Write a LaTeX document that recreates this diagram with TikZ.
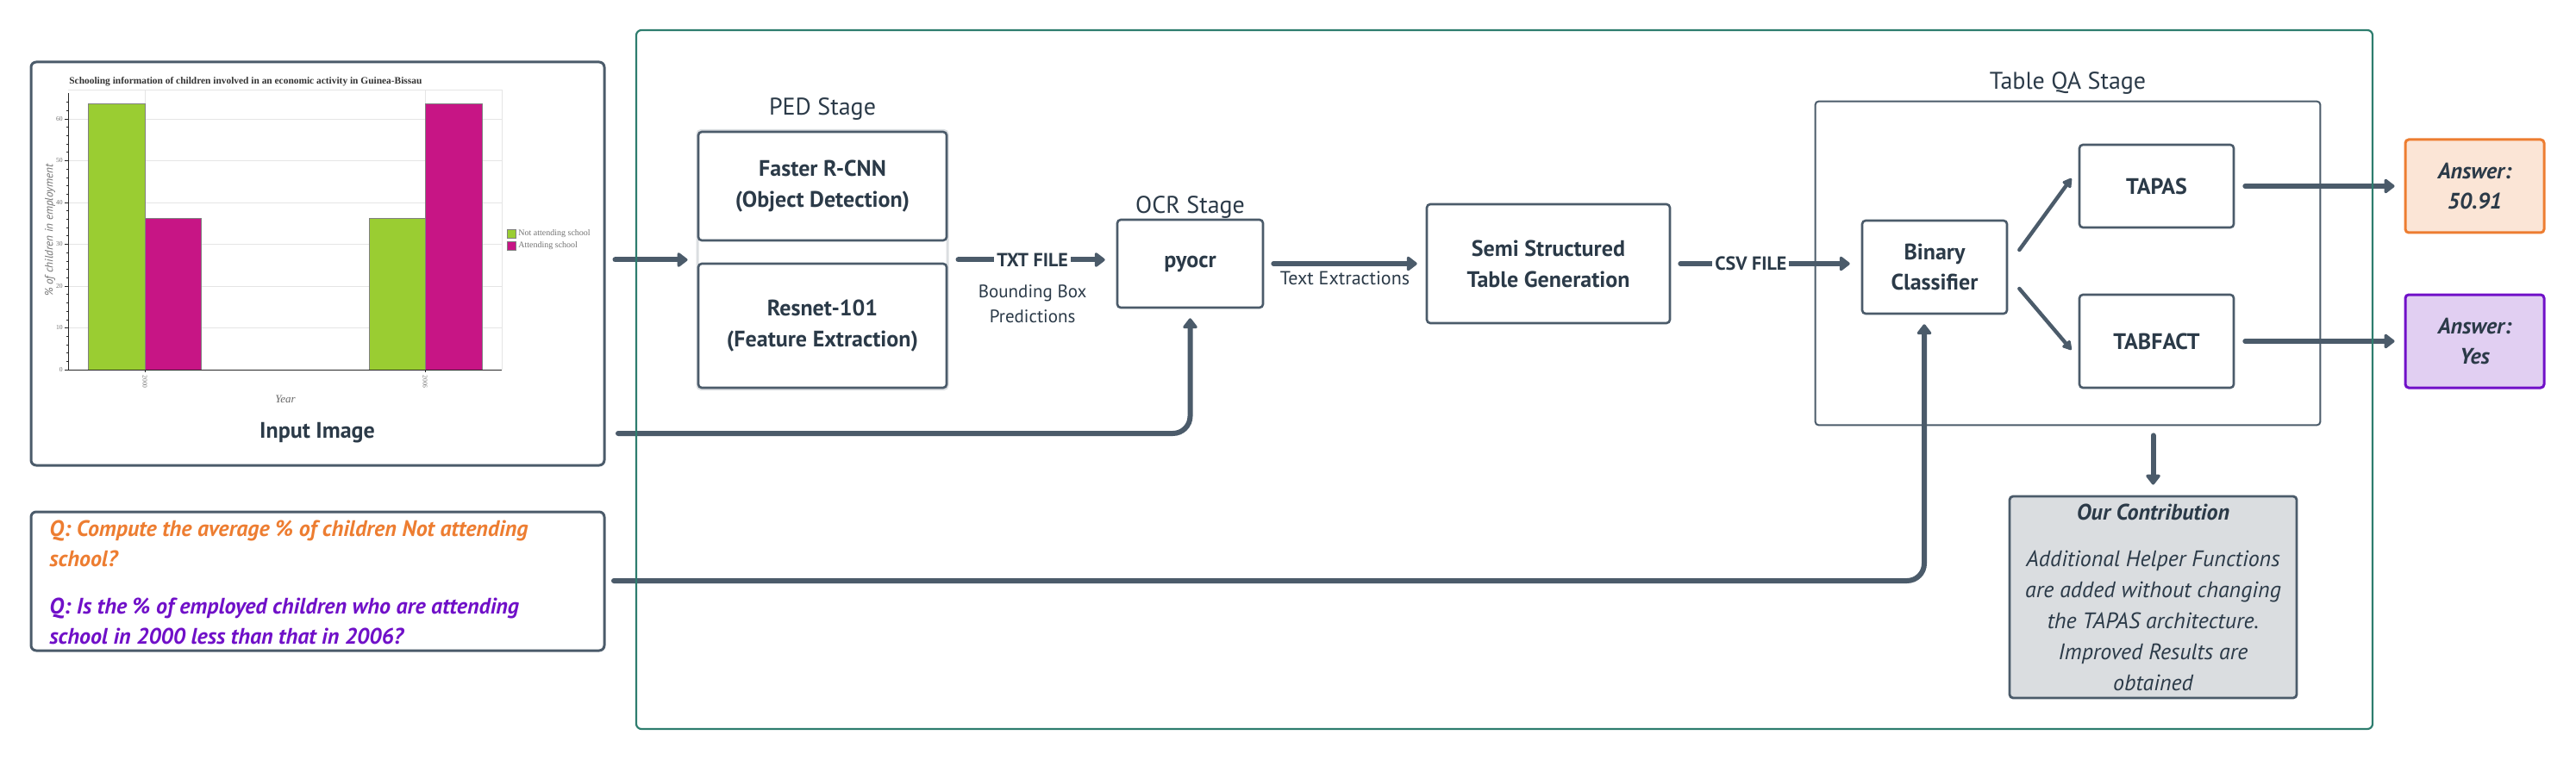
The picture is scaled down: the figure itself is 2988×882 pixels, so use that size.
\documentclass[tikz,border=0pt]{standalone}
\usepackage{fontspec}
\setmainfont{PT Sans}
\newfontfamily\chartfont{Liberation Serif}
\usepackage{tikz}
\usetikzlibrary{arrows.meta}
\usetikzlibrary{positioning}
\usetikzlibrary{calc}
\definecolor{slate}{HTML}{4B5B6A}
\definecolor{ink}{HTML}{2B3A48}
\definecolor{frame}{HTML}{2E7D6E}
\definecolor{qorange}{HTML}{ED7D31}
\definecolor{qpurple}{HTML}{7010C8}
\definecolor{peach}{HTML}{FBE5D6}
\definecolor{lilac}{HTML}{E1CFF2}
\definecolor{note}{HTML}{DADDE0}
\definecolor{barg}{HTML}{9ACD32}
\definecolor{barm}{HTML}{C71585}
\tikzstyle{flow}=[-{Triangle[length=6.5pt,width=9.5pt,round]},line width=3pt,line cap=round,color=slate]
\tikzstyle{split}=[-{Triangle[length=6pt,width=6.5pt,round]},line width=2.2pt,line cap=round,color=slate]

\begin{document}
\begin{tikzpicture}[x=0.5pt,y=-0.5pt]
    % mesmo estilo para todas as caixas
    \tikzstyle{block}=[draw=slate,line width=1.3pt,rounded corners=2pt,fill=white,text=ink,align=center,inner sep=0pt,font=\fontsize{13}{18}\selectfont\bfseries]
    \tikzstyle{stage}=[text=ink,inner sep=0pt,font=\fontsize{14}{17}\selectfont]
    \tikzstyle{answer}=[block,line width=1.5pt,minimum width=80.5pt,minimum height=54pt,font=\fontsize{13}{17.5}\selectfont\bfseries\itshape]
    \tikzstyle{filelabel}=[fill=white,inner xsep=1.5pt,inner ysep=0pt,text=ink,font=\fontsize{11}{13}\selectfont\bfseries]
    \tikzstyle{edgenote}=[inner sep=0pt,text=ink,align=center,font=\fontsize{10.5}{14.5}\selectfont]
    \tikzstyle{tick}=[inner sep=0pt,text=black!55,font=\chartfont\fontsize{3.8}{4}\selectfont]

    \useasboundingbox (0,0) rectangle (2988,882);

    % imagem de entrada
    \node[draw=slate,line width=1.5pt,rounded corners=3pt,minimum width=332.5pt,minimum height=234pt] (inbox) at (368.5,306) {};
    \node[anchor=west,inner sep=0pt,text=black!80,font=\chartfont\fontsize{5.7}{6}\selectfont\bfseries] (charttitle) at (80,95) {Schooling information of children involved in an economic activity in Guinea-Bissau};
    \foreach \v in {10,20,...,60}
        \draw[black!10,line width=0.4pt] (79,429-4.85*\v) -- (582,429-4.85*\v);
    \draw[black!10,line width=0.4pt] (168,104) -- (168,429) (493,104) -- (493,429);
    \draw[black!10,line width=0.4pt] (79,104) -- (582,104) -- (582,429);
    \draw[fill=barg,draw=black!50,line width=0.3pt] (102,429) rectangle (168,120);
    \draw[fill=barm,draw=black!50,line width=0.3pt] (168,429) rectangle (233,253);
    \draw[fill=barg,draw=black!50,line width=0.3pt] (428,429) rectangle (493,253);
    \draw[fill=barm,draw=black!50,line width=0.3pt] (493,429) rectangle (559,120);
    \draw[black!85,line width=0.5pt] (79,108) -- (79,429) -- (582,429);
    \foreach \v in {0,2,...,64}
        \draw[black!85,line width=0.3pt] (79,429-4.85*\v) -- (77,429-4.85*\v);
    \foreach \v in {0,10,...,60} {
        \draw[black!85,line width=0.4pt] (79,429-4.85*\v) -- (75,429-4.85*\v);
        \node[tick,anchor=east] (ytick\v) at (73,429-4.85*\v) {\v};
    }
    \draw[black!85,line width=0.4pt] (168,429) -- (168,432) (493,429) -- (493,432);
    \node[tick,rotate=-90,anchor=west] (xtick2000) at (168,435) {2000};
    \node[tick,rotate=-90,anchor=west] (xtick2006) at (493,435) {2006};
    \node[inner sep=0pt,text=black!60,font=\chartfont\fontsize{6.5}{7}\selectfont\itshape] (xlabel) at (331,463) {Year};
    \node[inner sep=0pt,rotate=90,text=black!55,font=\fontsize{6.6}{7}\selectfont\itshape] (ylabel) at (58,267) {\% of children in employment};
    \draw[fill=barg,draw=black!50,line width=0.3pt] (588,266) rectangle (598,276);
    \draw[fill=barm,draw=black!50,line width=0.3pt] (588,280) rectangle (598,290);
    \node[tick,anchor=west,font=\chartfont\fontsize{5}{5}\selectfont] (legnot) at (601,271) {Not attending school};
    \node[tick,anchor=west,font=\chartfont\fontsize{5}{5}\selectfont] (legatt) at (601,285) {Attending school};
    \node[inner sep=0pt,text=ink,font=\fontsize{13}{16}\selectfont\bfseries] (imgtitle) at (368,502) {Input Image};

    % perguntas
    \node[draw=slate,line width=1.5pt,rounded corners=3pt,minimum width=332.5pt,minimum height=80.5pt] (qbox) at (368.5,674.5) {};
    \node[anchor=west,align=left,inner sep=0pt,text=qorange,font=\fontsize{13}{17.5}\selectfont\bfseries\itshape] (qone) at (57,630.5) {Q: Compute the average \% of children Not attending\\school?};
    \node[anchor=west,align=left,inner sep=0pt,text=qpurple,font=\fontsize{13}{17.5}\selectfont\bfseries\itshape] (qtwo) at (57,720.5) {Q: Is the \% of employed children who are attending\\school in 2000 less than that in 2006?};

    % estagio PED
    \node[draw=slate!20,line width=1.5pt,rounded corners=2pt,minimum width=145pt,minimum height=150pt] (ped) at (954,301.5) {};
    \node[block,minimum width=144pt,minimum height=63pt] (faster) at (954,216) {Faster R-CNN\\(Object Detection)};
    \node[block,minimum width=144pt,minimum height=72pt] (resnet) at (954,378) {Resnet-101\\(Feature Extraction)};
    \node[stage,above=6pt of faster] (pedlabel) {PED Stage};

    % estagio OCR e tabela
    \node[block,minimum width=84.5pt,minimum height=51pt] (pyocr) at (1380.5,306) {pyocr};
    \node[stage,above=0pt of pyocr] (ocrlabel) {OCR Stage};
    \node[block,minimum width=141pt,minimum height=69pt] (semi) at (1796,306) {Semi Structured\\Table Generation};

    % estagio Table QA
    \node[minimum width=292.5pt,minimum height=187.5pt] (qa) at (2398.5,305.5) {};
    \node[stage,above=4pt of qa] (qalabel) {Table QA Stage};
    \node[block,minimum width=84pt,minimum height=54pt,font=\fontsize{13}{17.5}\selectfont\bfseries] (binary) at (2244,310) {Binary\\Classifier};
    \node[block,minimum width=89.5pt,minimum height=48pt] (tapas) at (2501.5,216) {TAPAS};
    \node[block,minimum width=89.5pt,minimum height=54pt] (tabfact) at (2501.5,396) {TABFACT};
    \node[answer,draw=qorange,fill=peach] (ansone) at (2870.5,216) {Answer:\\50.91};
    \node[answer,draw=qpurple,fill=lilac] (anstwo) at (2870.5,396) {Answer:\\Yes};
    \node[block,fill=note,line width=1.4pt,minimum width=166.5pt,minimum height=117pt,font=\fontsize{13}{18}\selectfont\itshape] (contrib) at (2497.5,693) {{\bfseries Our Contribution}\\[9pt]Additional Helper Functions\\are added without changing\\the TAPAS architecture.\\Improved Results are\\obtained};

    \coordinate (imgout) at (717,503);
    \coordinate (qout) at (712,674);

    \draw[flow,shorten <=5.5pt,shorten >=5pt] (inbox.east |- ped.west) -- (ped.west);
    \draw[flow,shorten <=5.5pt,shorten >=6.5pt] (ped.east) -- node[filelabel] (txtfile) {TXT FILE} node[edgenote,below=13pt] (bbox) {Bounding Box\\Predictions} (ped.east -| pyocr.west);
    \draw[flow,shorten <=5.5pt,shorten >=5pt] (pyocr.east) -- node[edgenote,below=3pt,font=\fontsize{11}{13}\selectfont] (textext) {Text Extractions} (semi.west);
    \draw[flow,shorten <=5.5pt,shorten >=6.5pt] (semi.east) -- node[filelabel,pos=0.42] (csvfile) {CSV FILE} (semi.east -| binary.west);
    \draw[split] ([xshift=6.5pt,yshift=10pt]binary.east) -- ([xshift=-4pt,yshift=4.5pt]tapas.west);
    \draw[split] ([xshift=6.5pt,yshift=-12.5pt]binary.east) -- ([xshift=-4pt,yshift=-5pt]tabfact.west);
    \draw[flow,shorten <=6pt,shorten >=5.5pt] (tapas.east) -- (ansone.west);
    \draw[flow,shorten <=6pt,shorten >=5.5pt] (tabfact.east) -- (anstwo.west);
    \draw[flow,shorten <=6pt,shorten >=6pt] (contrib.north |- qa.south) -- (contrib.north);
    \draw[flow,rounded corners=10pt] (imgout) -| ([yshift=-5.5pt]pyocr.south);
    \draw[flow,rounded corners=10pt] (qout) -| ([xshift=-6pt,yshift=-5.5pt]binary.south);

    % bordas por cima das setas
    \draw[slate,line width=1pt,rounded corners=2pt] (qa.south west) rectangle (qa.north east);
    \draw[frame,line width=1.1pt,rounded corners=3pt] (738,35) rectangle (2752,846);
\end{tikzpicture}
\end{document}
